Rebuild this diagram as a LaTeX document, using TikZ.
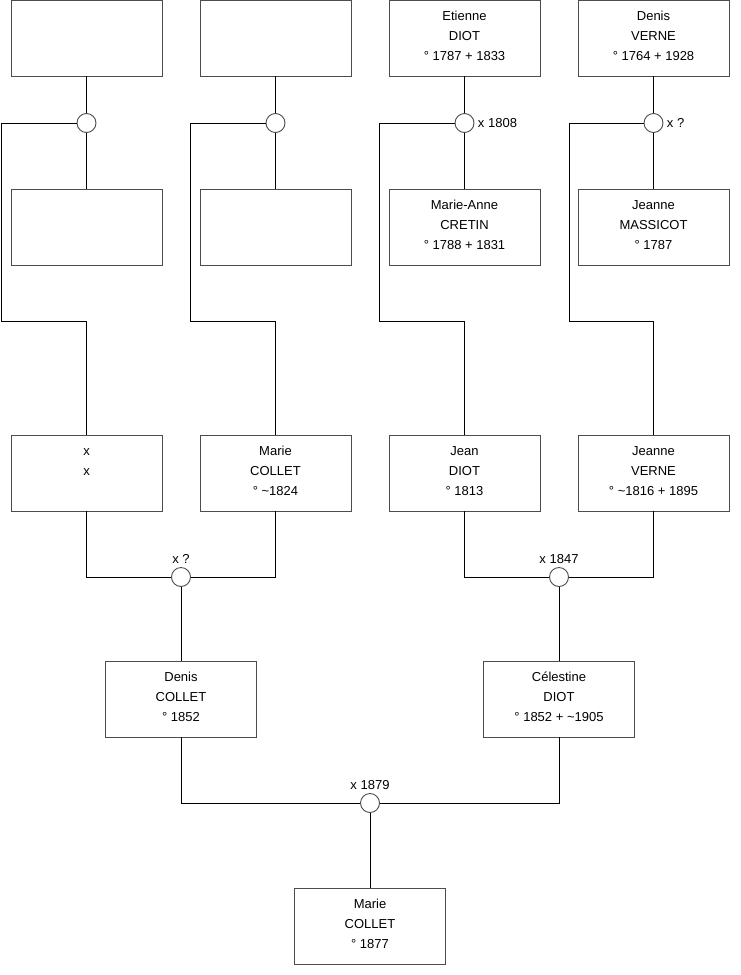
\documentclass[tikz,border=0pt]{standalone}
\usepackage{fontspec}
\setmainfont{Liberation Sans}

\tikzset{
  personne/.style={draw=black!70, line width=0.9pt, fill=white,
    minimum width=151pt, minimum height=76pt, inner sep=0pt,
    align=center, font=\fontsize{13}{20}\selectfont},
  union/.style={draw=black!70, line width=0.9pt, fill=white, circle,
    minimum size=19pt, inner sep=0pt},
  mariage/.style={font=\fontsize{13}{14}\selectfont},
  lien/.style={line width=0.9pt}
}
\newcommand{\fiche}[3]{#1\strut\\#2\strut\\#3\rule[-10pt]{0pt}{14pt}}

\begin{document}
\begin{tikzpicture}[x=1pt,y=-1pt]
  % Cadre
  \useasboundingbox (0,0) rectangle (740,975);

  % Arriere-grands-parents (haut)
  \node[personne] (a1) at (86.5,38)  {\fiche{}{}{}};
  \node[personne] (a2) at (275.5,38) {\fiche{}{}{}};
  \node[personne] (a3) at (464.5,38) {\fiche{Etienne}{DIOT}{° 1787 + 1833}};
  \node[personne] (a4) at (653.5,38) {\fiche{Denis}{VERNE}{° 1764 + 1928}};

  \node[personne] (b1) at (86.5,227)  {\fiche{}{}{}};
  \node[personne] (b2) at (275.5,227) {\fiche{}{}{}};
  \node[personne] (b3) at (464.5,227) {\fiche{Marie-Anne}{CRETIN}{° 1788 + 1831}};
  \node[personne] (b4) at (653.5,227) {\fiche{Jeanne}{MASSICOT}{° 1787}};

  % Unions du haut
  \node[union] (m1) at (86.5,123) {};
  \node[union] (m2) at (275.5,123) {};
  \node[union, label={[mariage]right:x 1808}] (m3) at (464.5,123) {};
  \node[union, label={[mariage]right:x ?}] (m4) at (653.5,123) {};

  % Grands-parents
  \node[personne] (c1) at (86.5,473)  {\fiche{x}{x}{}};
  \node[personne] (c2) at (275.5,473) {\fiche{Marie}{COLLET}{° \textasciitilde1824}};
  \node[personne] (c3) at (464.5,473) {\fiche{Jean}{DIOT}{° 1813}};
  \node[personne] (c4) at (653.5,473) {\fiche{Jeanne}{VERNE}{° \textasciitilde1816 + 1895}};

  % Coudes
  \coordinate (k1) at (1.5,321);
  \coordinate (k2) at (190,321);
  \coordinate (k3) at (379,321);
  \coordinate (k4) at (569,321);

  \foreach \i in {1,2,3,4} {
    \draw[lien] (a\i) -- (m\i) -- (b\i);
    \draw[lien] (m\i) -| (k\i) -| (c\i);
  }

  % Parents
  \node[union, label={[mariage]above:x ?}] (n1) at (181,577) {};
  \node[union, label={[mariage]above:x 1847}] (n2) at (559,577) {};
  \node[personne] (d1) at (181,699) {\fiche{Denis}{COLLET}{° 1852}};
  \node[personne] (d2) at (559,699) {\fiche{Célestine}{DIOT}{° 1852 + \textasciitilde1905}};

  \draw[lien] (c1) |- (n1) -| (c2);
  \draw[lien] (c3) |- (n2) -| (c4);
  \draw[lien] (n1) -- (d1);
  \draw[lien] (n2) -- (d2);

  % Enfant
  \node[union, label={[mariage]above:x 1879}] (n3) at (370,803) {};
  \node[personne] (e1) at (370,926) {\fiche{Marie}{COLLET}{° 1877}};

  \draw[lien] (d1) |- (n3) -| (d2);
  \draw[lien] (n3) -- (e1);
\end{tikzpicture}
\end{document}
